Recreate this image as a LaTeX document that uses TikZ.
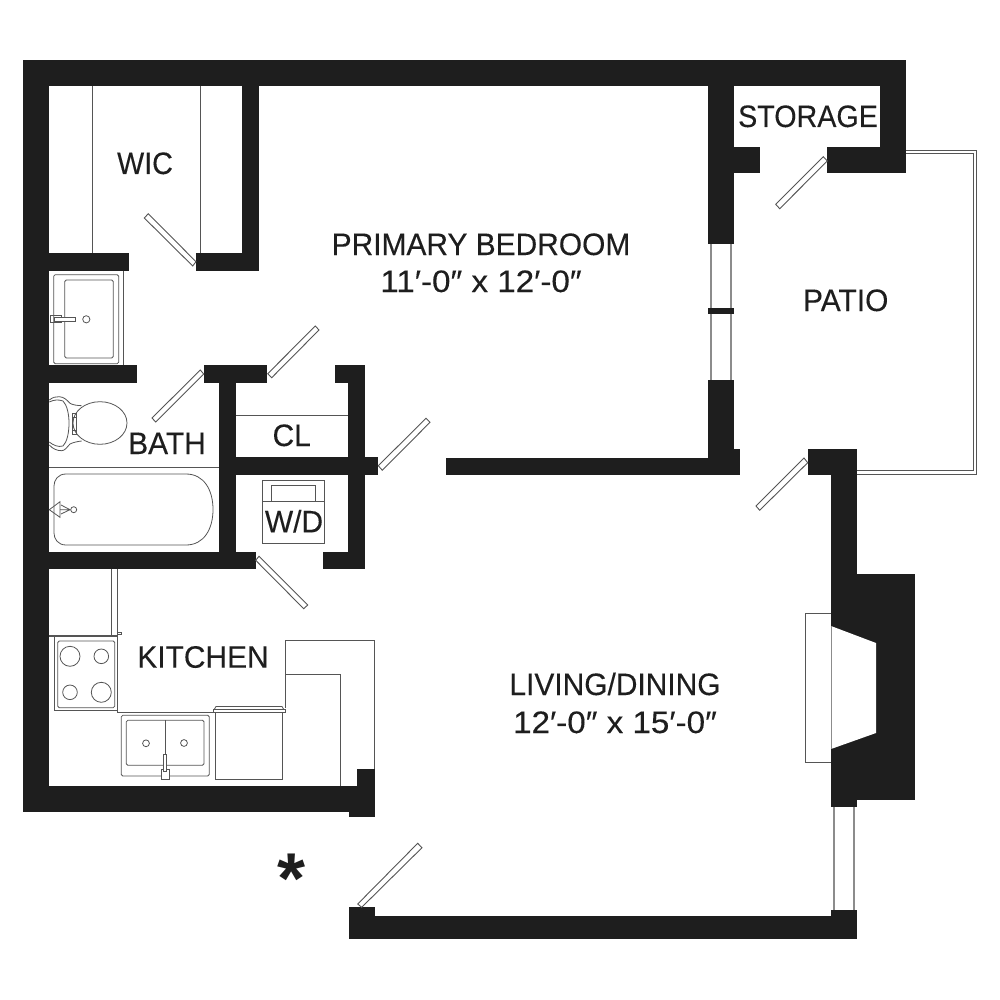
\documentclass[tikz,border=0pt]{standalone}
\usepackage{fontspec}
\setmainfont[FakeStretch=0.965,FakeBold=0.2]{Liberation Sans}
\newfontfamily\narrowf[FakeStretch=0.925,FakeBold=0.2]{Liberation Sans}
\newfontfamily\widef[FakeStretch=1.07,FakeBold=0.2]{Liberation Sans}
\newfontfamily\starfont{Liberation Sans Bold}
\definecolor{wallc}{HTML}{1E1E1E}
\definecolor{linec}{HTML}{555555}
\definecolor{winc}{HTML}{8C8C8C}
\tikzset{
  wall/.style={fill=wallc,draw=none},
  thinl/.style={draw=linec,line width=0.8pt},
  fixt/.style={draw=linec,line width=0.8pt,rounded corners=1.5pt},
  winl/.style={draw=winc,line width=1.6pt},
  leaf/.style={draw=linec,fill=white,line width=0.9pt},
  lab/.style={anchor=base,inner sep=0pt,text=wallc,font=\fontsize{31}{36}\selectfont,align=center},
}
\begin{document}
\begin{tikzpicture}[x=1pt,y=-1pt]
\useasboundingbox (0,0) rectangle (1000,1000);
\fill[white] (0,0) rectangle (1000,1000);
% thin fixtures under walls
\draw[thinl] (92,86) -- (92,253) (200,86) -- (200,253);
\draw[thinl] (123.7,271) -- (123.7,365);
\draw[thinl] (49,467) -- (219,467);
\draw[thinl] (236,415.3) -- (348,415.3);
% patio rail
\draw[linec,line width=1pt] (906,150.3) -- (976.7,150.3) -- (976.7,474) -- (857,474);
\draw[linec,line width=1pt] (906,153.7) -- (973.7,153.7) -- (973.7,470.7) -- (857,470.7);
% windows
\draw[winl] (711,244) -- (711,380) (731,244) -- (731,380);
\draw[winl] (834,807) -- (834,910) (854,807) -- (854,910);
% walls
\fill[wall] (23,60) rectangle (906,86);
\fill[wall] (23,60) rectangle (49,812);
\fill[wall] (23,786) rectangle (375,812);
\fill[wall] (349,786) rectangle (375,817);
\fill[wall] (357,769) rectangle (375,817);
\fill[wall] (242,86) rectangle (259,271);
\fill[wall] (196,253) rectangle (259,271);
\fill[wall] (49,253) rectangle (129,271);
\fill[wall] (49,365) rectangle (137,383);
\fill[wall] (23,552) rectangle (256,569);
\fill[wall] (219,365) rectangle (236,569);
\fill[wall] (204,365) rectangle (267,383);
\fill[wall] (348,365) rectangle (365,569);
\fill[wall] (335,365) rectangle (365,383);
\fill[wall] (323,552) rectangle (365,569);
\fill[wall] (236,457) rectangle (378,475);
\fill[wall] (446,458) rectangle (740,475);
\fill[wall] (708,380) rectangle (734,475);
\fill[wall] (734,449) rectangle (740,475);
\fill[wall] (708,60) rectangle (734,244);
\fill[wall] (734,147) rectangle (760,173);
\fill[wall] (880,60) rectangle (906,173);
\fill[wall] (827,147) rectangle (906,173);
\fill[wall] (708,308) rectangle (734,314);
\fill[wall] (808,449) rectangle (857,475);
\fill[wall] (831,449) rectangle (857,807);
\fill[wall] (857,574) rectangle (915,800);
\fill[wall] (349,916) rectangle (857,939);
\fill[wall] (349,907) rectangle (375,939);
\fill[wall] (831,910) rectangle (857,939);
% fireplace
\fill[white] (831,626) -- (876,643) -- (876,733) -- (831,749) -- cycle;
\draw[thinl] (831,613) -- (805,613) -- (805,762) -- (831,762);
\draw[winl,line width=1pt] (831,626) -- (831,749);
% door leaves
\draw[leaf] (144.3,218) -- (148.3,213.7) -- (196,261.7) -- (192.7,266) -- cycle;
\draw[leaf] (152,418) -- (155.7,422) -- (203.7,374) -- (200.3,370) -- cycle;
\draw[leaf] (267.7,373.7) -- (271.7,377.7) -- (319,330) -- (315.3,326) -- cycle;
\draw[leaf] (378.3,465.7) -- (382.3,470.3) -- (430,422.3) -- (426,418.3) -- cycle;
\draw[leaf] (255.7,560.3) -- (259,556.3) -- (307.7,605) -- (303.7,608.7) -- cycle;
\draw[leaf] (775.7,204.3) -- (779.7,208.7) -- (827.3,161) -- (823.3,156.7) -- cycle;
\draw[leaf] (756,506) -- (759.7,510.3) -- (807.7,462.7) -- (804,458) -- cycle;
\draw[leaf] (357.7,904) -- (361.7,907.3) -- (422,847.7) -- (417.7,843.3) -- cycle;
% vanity
\draw[fixt] (53.7,274.7) rectangle (118.7,363.7);
\draw[fixt] (64.7,280) rectangle (113.3,358);
\draw[thinl] (86.3,319.3) circle (3.6);
\draw[thinl] (50,315.3) rectangle (61,322.3);
\draw[thinl,fill=white] (54,317.3) rectangle (75,321);
% toilet
\draw[thinl] (100,423) ellipse (27 and 21.3);
\draw[thinl] (49.3,400) .. controls (53,397) and (56,396.7) .. (59.3,396.7) .. controls (64,397) and (67,400) .. (70,403.3) .. controls (73,405) and (77,405.5) .. (81.7,405.7);
\draw[thinl] (49.3,445) .. controls (53,449) and (57,450.7) .. (61.7,450.7) .. controls (65,450.7) and (67,447) .. (70,444) .. controls (73,442.5) and (77,441.5) .. (81.7,441);
\draw[thinl] (49.3,402) .. controls (54,399.5) and (59,399.5) .. (63,401) .. controls (67,405) and (69,414) .. (69,423) .. controls (69,433) and (67,442) .. (63,446) .. controls (58,447.5) and (53,445) .. (49.3,442);
\draw[thinl] (72,413) rectangle (76,417) (72,430) rectangle (76,434) (72,417) -- (72,430) (76,417) -- (76,430);
% tub
\draw[thinl] (66,474) -- (186,474) .. controls (204,474) and (213,490) .. (213,509.5) .. controls (213,529) and (204,545) .. (186,545) -- (66,545) .. controls (58,545) and (54,539) .. (54,533) -- (54,486) .. controls (54,480) and (58,474) .. (66,474) -- cycle;
\draw[thinl] (49.3,509.7) -- (60,501.7) -- (60,517.3) -- cycle;
\draw[thinl] (73.7,509.7) circle (3);
\draw[thinl] (60,509.7) -- (70.5,509.7) (61,505) -- (70,509.7) (61,514) -- (70,509.7);
% fridge
\draw[thinl] (111.7,569) -- (111.7,636) (117.3,569) -- (117.3,636);
\draw[thinl,line width=1.4pt] (49,636) -- (117.3,636);
\draw[thinl] (117.3,632) rectangle (121,634);
% stove
\draw[thinl] (54.3,636) -- (54.3,710) -- (117.3,710) -- (117.3,636);
\draw[fixt] (57.7,641) rectangle (114.7,707.7);
\draw[thinl] (70,656.3) circle (10) (101.3,656.3) circle (7.3) (70,692.3) circle (7.3) (101.3,692.3) circle (10);
% counter
\draw[thinl] (117.3,710) -- (117.3,712.7) -- (213,712.7);
\draw[thinl] (285.7,708) -- (285.7,640) -- (374.7,640) -- (374.7,769);
\draw[thinl] (285.7,674) -- (340.7,674) -- (340.7,786);
% dishwasher
\draw[thinl] (215.7,712.7) rectangle (282.7,779);
\draw[thinl] (213,712.7) rectangle (285,709);
\draw[thinl] (214.5,709) -- (216,706.5) -- (282,706.5) -- (283.5,709);
% sink
\draw[fixt] (121.3,715.3) rectangle (209.3,776);
\draw[fixt] (126.3,720.3) rectangle (204,765.3);
\draw[thinl] (165,720.3) -- (165,765.3);
\draw[thinl] (146,743.3) circle (3.4) (184,743) circle (3.4);
\draw[thinl,fill=white] (161.3,769) rectangle (169,779);
\draw[thinl,fill=white] (163.3,754) rectangle (166.7,771);
% washer/dryer
\draw[thinl] (262,480.7) rectangle (324.7,543);
\draw[thinl] (262,501.3) -- (324.7,501.3);
\draw[thinl] (271.3,501.3) -- (271.3,485.3) -- (315.7,485.3) -- (315.7,501.3);
% labels
\node[lab] (wic) at (145,174) {\narrowf WIC};
\node[lab] (bath) at (167,454) {BATH};
\node[lab] (cl) at (291.7,446) {CL};
\node[lab] (wd) at (294,532.3) {W/D};
\node[lab] (kitchen) at (203,667.7) {KITCHEN};
\node[lab] (storage) at (808,127) {\narrowf STORAGE};
\node[lab] (patio) at (845.7,311) {PATIO};
\node[lab] (bed) at (481,255) {PRIMARY BEDROOM};
\node[lab] (beddim) at (481,292) {\widef 11′-0″ x 12′-0″};
\node[lab] (living) at (615,695) {LIVING/DINING};
\node[lab] (livingdim) at (615,733) {\widef 12′-0″ x 15′-0″};
\node[inner sep=0pt,text=wallc,font=\starfont\fontsize{72}{72}\selectfont] (star) at (291.7,879) {*};
\end{tikzpicture}
\end{document}
